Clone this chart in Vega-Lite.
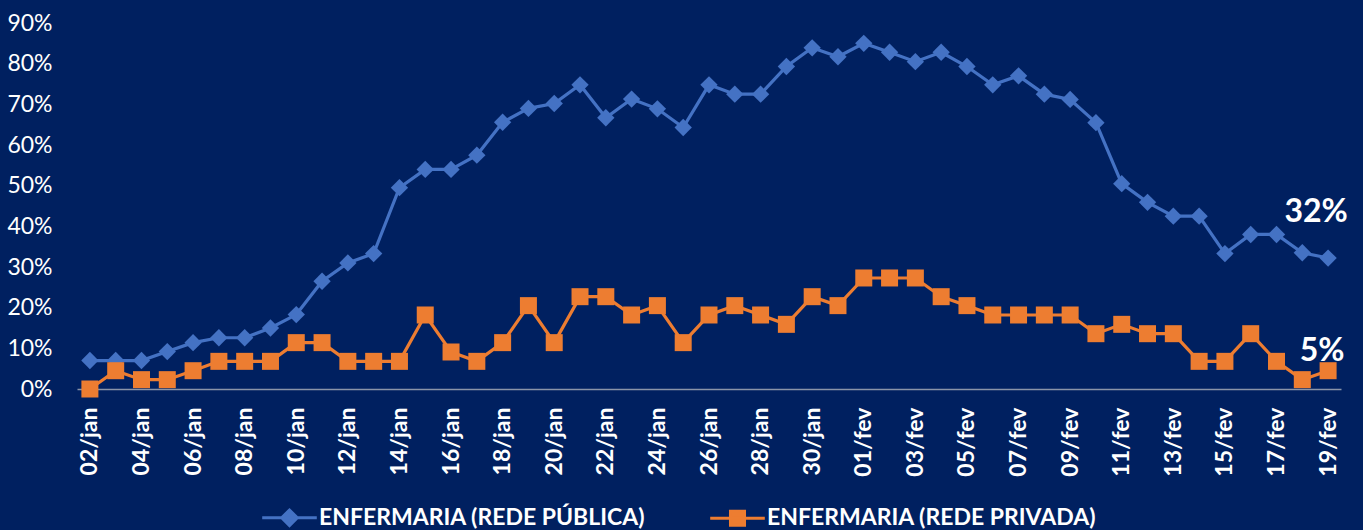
{
  "$schema": "https://vega.github.io/schema/vega-lite/v6.json",
  "width": 1264,
  "height": 366,
  "autosize": "none",
  "padding": {"left": 77, "top": 23, "right": 22, "bottom": 141},
  "background": "#002060",
  "config": {"view": {"stroke": null}, "font": "Lato"},
  "data": {"values": [
    {"d":"02/jan","s":"pub","v":0.07},{"d":"03/jan","s":"pub","v":0.07},{"d":"04/jan","s":"pub","v":0.07},{"d":"05/jan","s":"pub","v":0.092},{"d":"06/jan","s":"pub","v":0.114},{"d":"07/jan","s":"pub","v":0.126},{"d":"08/jan","s":"pub","v":0.126},{"d":"09/jan","s":"pub","v":0.15},{"d":"10/jan","s":"pub","v":0.183},{"d":"11/jan","s":"pub","v":0.265},{"d":"12/jan","s":"pub","v":0.31},{"d":"13/jan","s":"pub","v":0.333},{"d":"14/jan","s":"pub","v":0.495},{"d":"15/jan","s":"pub","v":0.54},{"d":"16/jan","s":"pub","v":0.54},{"d":"17/jan","s":"pub","v":0.575},{"d":"18/jan","s":"pub","v":0.656},{"d":"19/jan","s":"pub","v":0.69},{"d":"20/jan","s":"pub","v":0.702},{"d":"21/jan","s":"pub","v":0.748},{"d":"22/jan","s":"pub","v":0.667},{"d":"23/jan","s":"pub","v":0.713},{"d":"24/jan","s":"pub","v":0.689},{"d":"25/jan","s":"pub","v":0.643},{"d":"26/jan","s":"pub","v":0.748},{"d":"27/jan","s":"pub","v":0.725},{"d":"28/jan","s":"pub","v":0.725},{"d":"29/jan","s":"pub","v":0.793},{"d":"30/jan","s":"pub","v":0.839},{"d":"31/jan","s":"pub","v":0.817},{"d":"01/fev","s":"pub","v":0.85},{"d":"02/fev","s":"pub","v":0.828},{"d":"03/fev","s":"pub","v":0.805},{"d":"04/fev","s":"pub","v":0.828},{"d":"05/fev","s":"pub","v":0.793},{"d":"06/fev","s":"pub","v":0.748},{"d":"07/fev","s":"pub","v":0.77},{"d":"08/fev","s":"pub","v":0.725},{"d":"09/fev","s":"pub","v":0.712},{"d":"10/fev","s":"pub","v":0.655},{"d":"11/fev","s":"pub","v":0.505},{"d":"12/fev","s":"pub","v":0.459},{"d":"13/fev","s":"pub","v":0.425},{"d":"14/fev","s":"pub","v":0.425},{"d":"15/fev","s":"pub","v":0.333},{"d":"16/fev","s":"pub","v":0.38},{"d":"17/fev","s":"pub","v":0.38},{"d":"18/fev","s":"pub","v":0.335},{"d":"19/fev","s":"pub","v":0.322},
    {"d":"02/jan","s":"priv","v":0.0},{"d":"03/jan","s":"priv","v":0.045},{"d":"04/jan","s":"priv","v":0.023},{"d":"05/jan","s":"priv","v":0.023},{"d":"06/jan","s":"priv","v":0.045},{"d":"07/jan","s":"priv","v":0.068},{"d":"08/jan","s":"priv","v":0.068},{"d":"09/jan","s":"priv","v":0.068},{"d":"10/jan","s":"priv","v":0.114},{"d":"11/jan","s":"priv","v":0.114},{"d":"12/jan","s":"priv","v":0.068},{"d":"13/jan","s":"priv","v":0.068},{"d":"14/jan","s":"priv","v":0.068},{"d":"15/jan","s":"priv","v":0.182},{"d":"16/jan","s":"priv","v":0.091},{"d":"17/jan","s":"priv","v":0.068},{"d":"18/jan","s":"priv","v":0.114},{"d":"19/jan","s":"priv","v":0.205},{"d":"20/jan","s":"priv","v":0.114},{"d":"21/jan","s":"priv","v":0.227},{"d":"22/jan","s":"priv","v":0.227},{"d":"23/jan","s":"priv","v":0.182},{"d":"24/jan","s":"priv","v":0.205},{"d":"25/jan","s":"priv","v":0.114},{"d":"26/jan","s":"priv","v":0.182},{"d":"27/jan","s":"priv","v":0.205},{"d":"28/jan","s":"priv","v":0.182},{"d":"29/jan","s":"priv","v":0.159},{"d":"30/jan","s":"priv","v":0.227},{"d":"31/jan","s":"priv","v":0.205},{"d":"01/fev","s":"priv","v":0.273},{"d":"02/fev","s":"priv","v":0.273},{"d":"03/fev","s":"priv","v":0.273},{"d":"04/fev","s":"priv","v":0.227},{"d":"05/fev","s":"priv","v":0.205},{"d":"06/fev","s":"priv","v":0.182},{"d":"07/fev","s":"priv","v":0.182},{"d":"08/fev","s":"priv","v":0.182},{"d":"09/fev","s":"priv","v":0.182},{"d":"10/fev","s":"priv","v":0.136},{"d":"11/fev","s":"priv","v":0.159},{"d":"12/fev","s":"priv","v":0.136},{"d":"13/fev","s":"priv","v":0.136},{"d":"14/fev","s":"priv","v":0.068},{"d":"15/fev","s":"priv","v":0.068},{"d":"16/fev","s":"priv","v":0.136},{"d":"17/fev","s":"priv","v":0.068},{"d":"18/fev","s":"priv","v":0.023},{"d":"19/fev","s":"priv","v":0.045}
  ]},
  "encoding": {
    "x": {
      "field": "d", "type": "ordinal", "sort": null,
      "scale": {"type": "point", "padding": 0.5},
      "axis": {
        "title": null,
        "values": ["02/jan","04/jan","06/jan","08/jan","10/jan","12/jan","14/jan","16/jan","18/jan","20/jan","22/jan","24/jan","26/jan","28/jan","30/jan","01/fev","03/fev","05/fev","07/fev","09/fev","11/fev","13/fev","15/fev","17/fev","19/fev"],
        "labelAngle": 270, "labelAlign": "right", "labelBaseline": "middle",
        "labelColor": "white", "labelFont": "Lato", "labelFontWeight": "bold", "labelFontSize": 23,
        "labelPadding": 18, "ticks": false,
        "domainColor": "#8a94a8", "domainWidth": 1.5,
        "grid": false
      }
    },
    "y": {
      "field": "v", "type": "quantitative",
      "scale": {"domain": [0, 0.9], "nice": false},
      "axis": {
        "title": null, "format": ".0%",
        "values": [0,0.1,0.2,0.3,0.4,0.5,0.6,0.7,0.8,0.9],
        "labelColor": "white", "labelFont": "Lato", "labelFontSize": 23,
        "labelPadding": 25, "ticks": false, "domain": false, "grid": false
      }
    }
  },
  "layer": [
    {
      "mark": {"type": "line", "strokeWidth": 3.2},
      "encoding": {
        "color": {
          "field": "s", "type": "nominal",
          "scale": {"domain": ["pub","priv"], "range": ["#4472C4","#ED7D31"]},
          "legend": {
            "orient": "none", "legendX": 185, "legendY": 467,
            "direction": "horizontal", "title": null, "padding": 0,
            "labelExpr": "datum.value == 'pub' ? 'ENFERMARIA (REDE PÚBLICA)' : 'ENFERMARIA (REDE PRIVADA)'",
            "labelColor": "white", "labelFont": "Lato", "labelFontWeight": "bold", "labelFontSize": 23,
            "labelLimit": 600, "labelOffset": 2,
            "symbolSize": 2704, "symbolStrokeWidth": 3,
            "columnPadding": 58,
            "encode": {
              "symbols": {"update": {
                "shape": {"signal": "datum.value == 'pub' ? 'M-1.05,0H1.05M0,-0.3L0.3,0L0,0.3L-0.3,0Z' : 'M-1.05,0H1.05M-0.27,-0.27H0.27V0.27H-0.27Z'"},
                "fill": {"signal": "datum.value == 'pub' ? '#4472C4' : '#ED7D31'"},
                "stroke": {"signal": "datum.value == 'pub' ? '#4472C4' : '#ED7D31'"},
                "strokeWidth": {"value": 3},
                "opacity": {"value": 1}
              }}
            }
          }
        }
      }
    },
    {
      "transform": [{"filter": "datum.s == 'pub'"}],
      "mark": {"type": "point", "filled": true, "opacity": 1, "size": 300, "shape": "diamond", "color": "#4472C4"}
    },
    {
      "transform": [{"filter": "datum.s == 'priv'"}],
      "mark": {"type": "point", "filled": true, "opacity": 1, "size": 289, "shape": "square", "color": "#ED7D31"}
    },
    {
      "data": {"values": [{"d":"19/fev","v":0.322,"t":"32%"}]},
      "mark": {"type": "text", "color": "white", "font": "Lato", "fontWeight": "bold", "fontSize": 32, "align": "center", "baseline": "alphabetic", "dx": -12, "dy": -36},
      "encoding": {"text": {"field": "t"}}
    },
    {
      "data": {"values": [{"d":"19/fev","v":0.045,"t":"5%"}]},
      "mark": {"type": "text", "color": "white", "font": "Lato", "fontWeight": "bold", "fontSize": 32, "align": "center", "baseline": "alphabetic", "dx": -6, "dy": -10},
      "encoding": {"text": {"field": "t"}}
    }
  ]
}
